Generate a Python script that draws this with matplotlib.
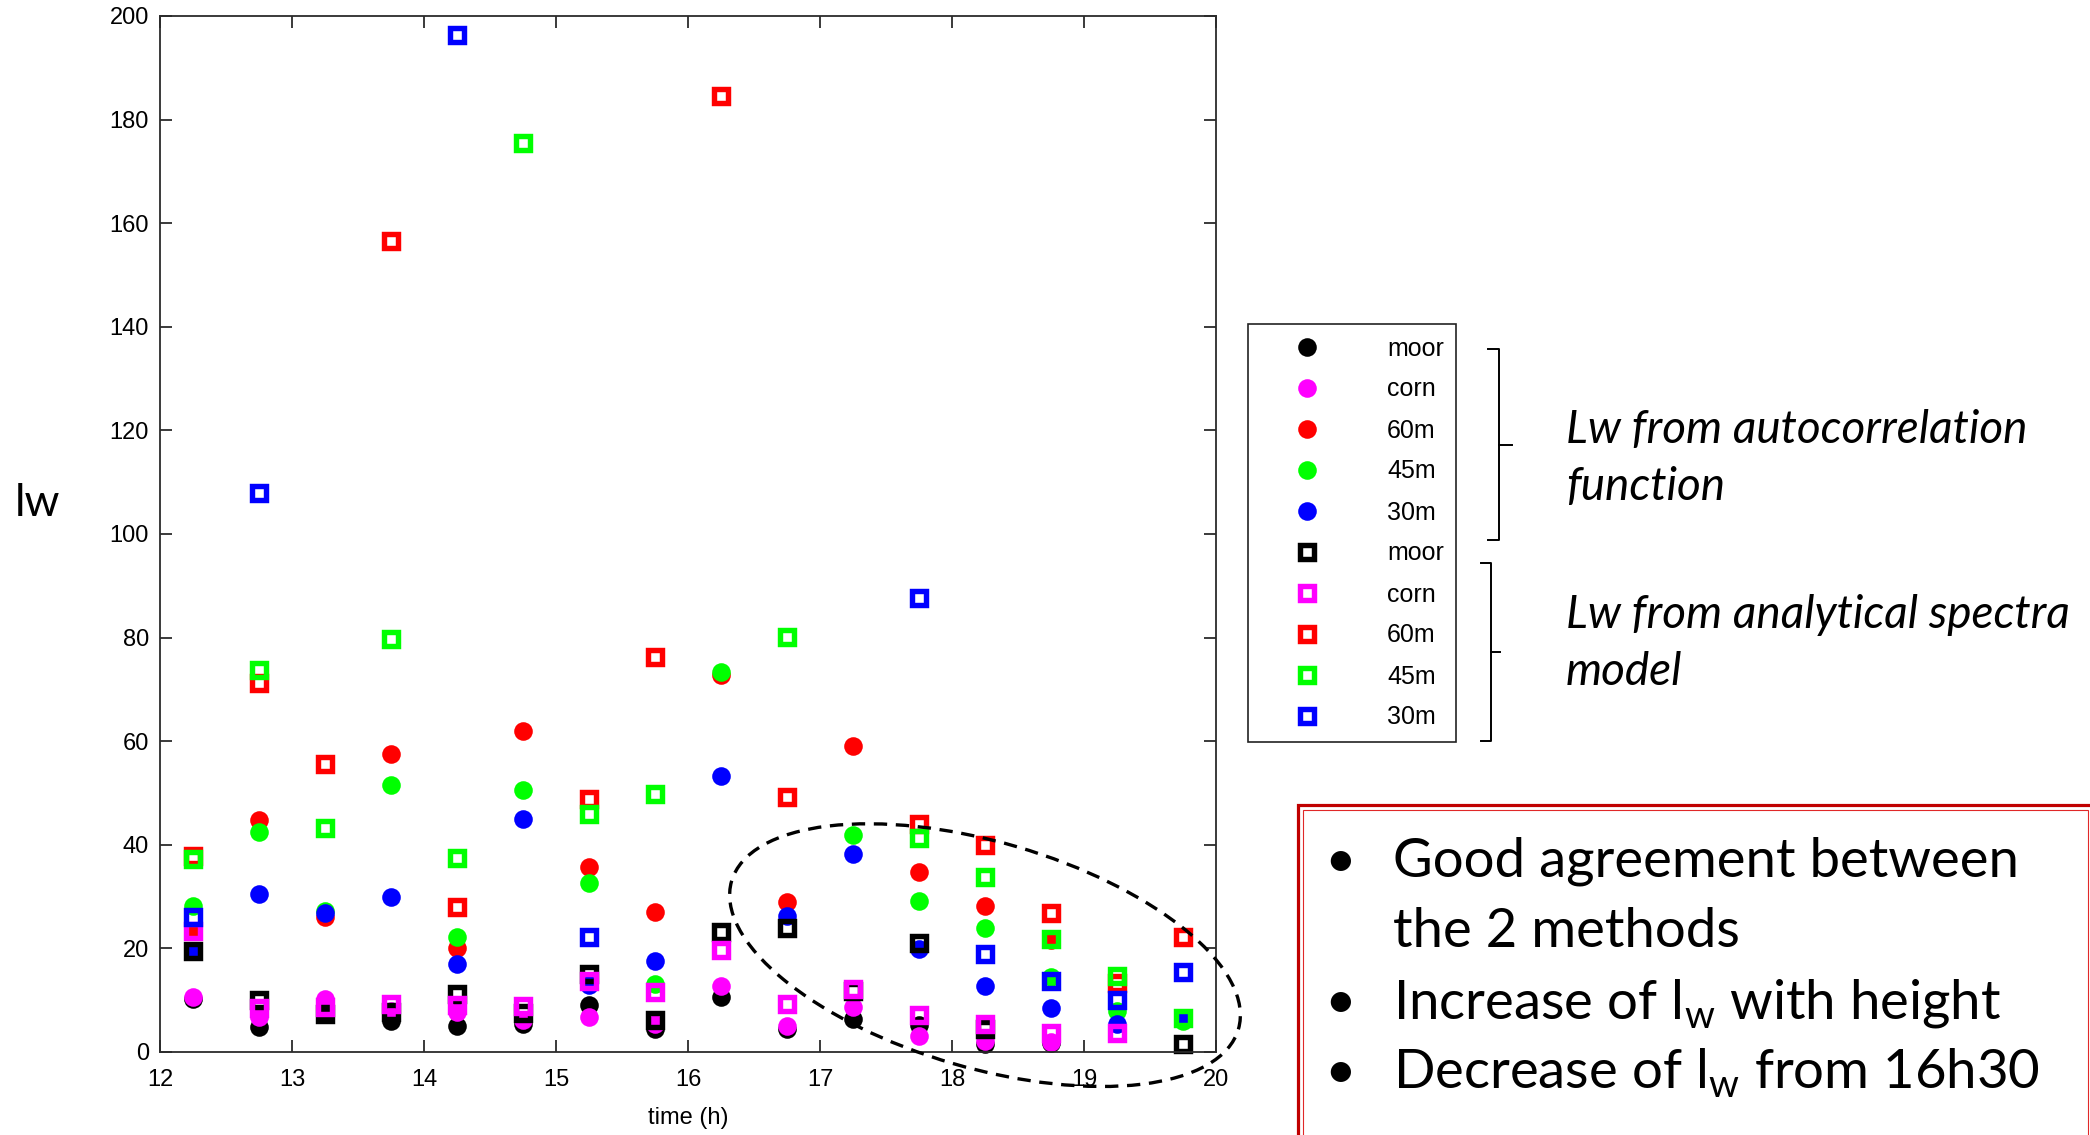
import numpy as np
import matplotlib
matplotlib.use("Agg")
import matplotlib.pyplot as plt
from matplotlib.lines import Line2D
from matplotlib.patches import Ellipse, Rectangle

nan = np.nan

# ---------------------------------------------------------------- data
times = [12.25, 12.75, 13.25, 13.75, 14.25, 14.75, 15.25, 15.75,
         16.25, 16.75, 17.25, 17.75, 18.25, 18.75, 19.25, 19.75]

site_labels = ["moor", "corn", "60m", "45m", "30m"]
site_colors = ["#000000", "#ff00ff", "#ff0000", "#00ff00", "#0000ff"]

# length scale lw from the autocorrelation function
acf_moor = [10.2, 4.8, 7.4, 5.9, 5.1, 5.5, 9.0, 4.5, 10.6, 4.5, 6.4, 5.2, 1.6, 1.7, nan, nan]
acf_corn = [10.6, 6.7, 10.3, 8.0, 7.7, 6.2, 6.7, 5.5, 12.7, 5.1, 8.7, 3.0, 2.2, 1.9, nan, nan]
acf_60m = [23.3, 44.8, 26.1, 57.5, 20.1, 62.0, 35.8, 27.0, 72.8, 28.9, 59.1, 34.7, 28.2, 21.7, nan, nan]
acf_45m = [28.1, 42.5, 27.3, 51.5, 22.2, 50.5, 32.6, 13.2, 73.4, nan, 41.8, 29.2, 24.0, 14.5, 8.0, 6.0]
acf_30m = [19.5, 30.5, 26.8, 30.0, 16.9, 45.0, 12.9, 17.5, 53.3, 26.3, 38.2, 19.9, 12.8, 8.4, 5.5, 6.6]

# length scale lw from the analytical spectra model
spec_moor = [19.5, 10.0, 7.4, 7.7, 11.2, 7.5, 15.1, 6.1, 23.1, 24.0, 11.8, 21.0, 4.5, nan, nan, 1.6]
spec_corn = [23.3, 8.4, 8.7, 9.2, 9.0, 8.8, 13.8, 11.6, 19.7, 9.3, 12.2, 7.1, 5.4, 3.6, 3.6, nan]
spec_60m = [37.9, 71.3, 55.6, 156.5, 27.9, nan, 48.9, 76.3, 184.5, 49.3, nan, 44.0, 40.0, 26.8, 13.3, 22.2]
spec_45m = [37.2, 73.7, 43.2, 79.8, 37.5, 175.4, 46.0, 49.8, nan, 80.2, nan, 41.4, 33.8, 21.9, 14.6, 6.6]
spec_30m = [26.0, 108.0, nan, nan, 196.4, nan, 22.2, nan, nan, nan, nan, 87.7, 18.9, 13.7, 10.0, 15.4]

acf_series = [acf_moor, acf_corn, acf_60m, acf_45m, acf_30m]
spec_series = [spec_moor, spec_corn, spec_60m, spec_45m, spec_30m]

x_ticks = list(range(12, 21))
y_ticks = list(range(0, 201, 20))

notes_acf = ["Lw from autocorrelation", "function"]
notes_spec = ["Lw from analytical spectra", "model"]
bullets = ["Good agreement between", "the 2 methods",
           r"Increase of l$_\mathregular{w}$ with height",
           r"Decrease of l$_\mathregular{w}$ from 16h30"]

# ---------------------------------------------------------------- figure
W, H = 2090, 1135
fig = plt.figure(figsize=(W / 100, H / 100), dpi=100)
fig.patch.set_facecolor("white")


def fx(px):
    return px / W


def fy(py):
    return 1 - py / H


ax_l, ax_r, ax_t, ax_b = 160, 1216, 16, 1052
ax = fig.add_axes([fx(ax_l), fy(ax_b), fx(ax_r - ax_l), (ax_b - ax_t) / H])

tick_font = "Liberation Sans"
spine_col = "#2b2b2b"

handles = []
for vals, col, lab in zip(acf_series, site_colors, site_labels):
    h, = ax.plot(times, vals, linestyle="none", marker="o", markersize=13.4,
                 markerfacecolor=col, markeredgewidth=0, label=lab, clip_on=False)
    handles.append(h)
for vals, col, lab in zip(spec_series, site_colors, site_labels):
    h, = ax.plot(times, vals, linestyle="none", marker="s", markersize=10,
                 markerfacecolor="none", markeredgecolor=col, markeredgewidth=3.9,
                 label=lab, clip_on=False)
    handles.append(h)

ax.set_xlim(12, 20)
ax.set_ylim(0, 200)
ax.set_xticks(x_ticks)
ax.set_yticks(y_ticks)
ax.set_xticklabels([str(v) for v in x_ticks], fontfamily=tick_font, fontsize=17)
ax.set_yticklabels([str(v) for v in y_ticks], fontfamily=tick_font, fontsize=17)
ax.tick_params(axis="both", direction="in", length=8.5, width=1.3, color=spine_col,
               top=True, right=True)
ax.tick_params(axis="x", pad=12)
ax.tick_params(axis="y", pad=8)
for s in ax.spines.values():
    s.set_color(spine_col)
    s.set_linewidth(1.3)

ax.set_xlabel("time (h)", fontfamily=tick_font, fontsize=17)
ax.xaxis.set_label_coords(0.5, (ax_b - 1118) / (ax_b - ax_t))
ax.xaxis.label.set_va("center")

ax.set_ylabel("lw", fontfamily="Lato", fontsize=32, rotation=0)
ax.yaxis.set_label_coords((37 - ax_l) / (ax_r - ax_l), (ax_b - 503) / (ax_b - ax_t))
ax.yaxis.label.set_va("center")
ax.yaxis.label.set_ha("center")

# legend listing both estimation methods
leg = ax.legend(handles=handles, loc="upper left",
                bbox_to_anchor=(fx(1248), fy(324)), bbox_transform=fig.transFigure,
                borderaxespad=0, frameon=True, fancybox=False, framealpha=1,
                edgecolor="#222222", numpoints=1, borderpad=0.5,
                handlelength=3.72, handletextpad=1.34, labelspacing=0.68,
                prop={"family": tick_font, "size": 18})
leg.get_frame().set_linewidth(1.2)

# dashed ellipse around the late-afternoon points
fig.canvas.draw()
cx, cy = ax.transData.transform((18.25, 18.7))
ell = Ellipse((cx / 100, cy / 100), 2 * 264 / 100, 2 * 113 / 100, angle=-16.3,
              transform=fig.dpi_scale_trans, fill=False, edgecolor="black",
              linewidth=2.4, linestyle=(0, (4.0, 2.6)), zorder=5)
fig.add_artist(ell)

# braces grouping the legend entries
brace_kw = dict(color="black", linewidth=1.4, transform=fig.transFigure)


def brace(x, y0, y1, hook, tick):
    ym = (y0 + y1) / 2
    fig.add_artist(Line2D([fx(x - hook), fx(x), fx(x), fx(x - hook)],
                          [fy(y0), fy(y0), fy(y1), fy(y1)], **brace_kw))
    fig.add_artist(Line2D([fx(x), fx(x + tick)], [fy(ym), fy(ym)], **brace_kw))


brace(1499, 349, 540, 11, 13)
brace(1491, 563, 741, 10, 9)

renderer = fig.canvas.get_renderer()


def fit_width(t, target):
    w = t.get_window_extent(renderer).width
    t.set_fontsize(t.get_fontsize() * target / w)


note_font = "Lato"
t1 = fig.text(fx(1566), fy(443), notes_acf[0], fontfamily=note_font, style="italic",
              fontsize=28, ha="left", va="baseline")
t3 = fig.text(fx(1566), fy(628), notes_spec[0], fontfamily=note_font, style="italic",
              fontsize=28, ha="left", va="baseline")
fit_width(t1, 463)
fit_width(t3, 502)
note_size = (t1.get_fontsize() + t3.get_fontsize()) / 2
t1.set_fontsize(note_size)
t3.set_fontsize(note_size)
fig.text(fx(1566), fy(500), notes_acf[1], fontfamily=note_font, style="italic",
         fontsize=note_size, ha="left", va="baseline")
fig.text(fx(1566), fy(685), notes_spec[1], fontfamily=note_font, style="italic",
         fontsize=note_size, ha="left", va="baseline")

# summary box
fig.add_artist(Rectangle((fx(1298), fy(1160)), fx(2120 - 1298), (1160 - 805) / H,
                         transform=fig.transFigure, fill=False, edgecolor="#c00000",
                         linewidth=2.3))
fig.add_artist(Rectangle((fx(1303), fy(1160)), fx(2088 - 1303), (1160 - 810) / H,
                         transform=fig.transFigure, fill=False, edgecolor="#e02828",
                         linewidth=0.8))

b0 = fig.text(fx(1393), fy(877), bullets[0], fontfamily=note_font, fontsize=38,
              ha="left", va="baseline")
fit_width(b0, 626)
bsize = b0.get_fontsize()
for txt, base in zip(bullets[1:], [947, 1018, 1088]):
    fig.text(fx(1393), fy(base), txt, fontfamily=note_font, fontsize=bsize,
             ha="left", va="baseline")
for base in [877, 1018, 1088]:
    fig.text(fx(1340), fy(base), "\u2022", fontfamily=note_font, fontsize=bsize,
             ha="center", va="baseline")

fig.savefig("out.png", dpi=100)
